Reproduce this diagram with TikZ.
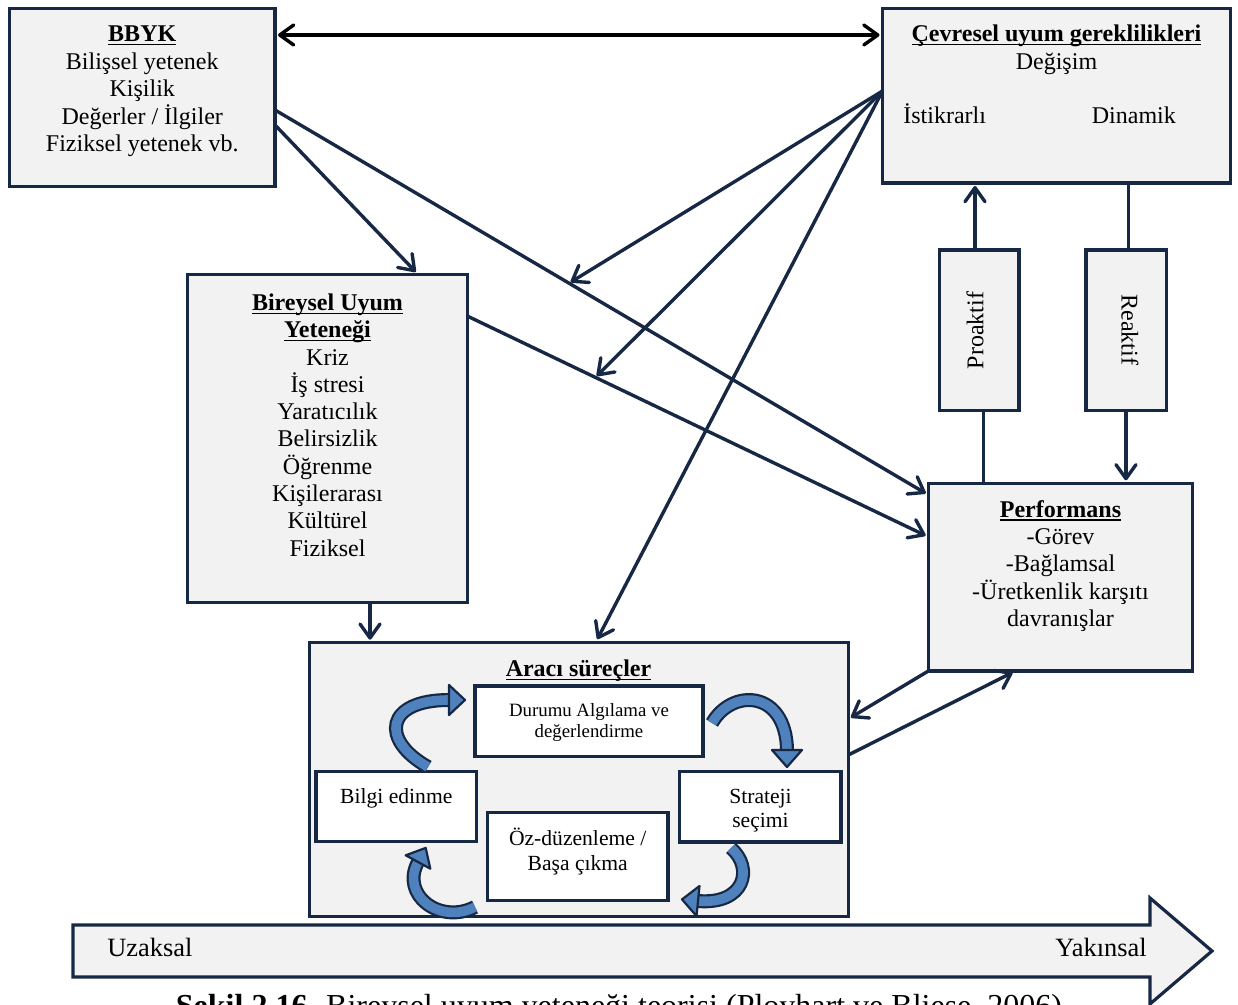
\documentclass[tikz,border=0pt]{standalone}
\usepackage{fontspec}
\setmainfont{Liberation Serif}
\usetikzlibrary{arrows.meta,calc}
\definecolor{navy}{RGB}{23,40,69}
\definecolor{boxfill}{RGB}{242,242,242}
\definecolor{cblue}{RGB}{79,129,189}
\newcommand\myul[1]{\setbox0\hbox{#1}\rlap{\rule[-1.8pt]{\wd0}{0.7pt}}\box0}
\begin{document}
\begin{tikzpicture}[x=0.5pt,y=-0.5pt,
  box/.style={draw=navy, line width=1.6pt, fill=boxfill, inner sep=0pt, outer sep=0pt},
  wbox/.style={draw=navy, line width=1.6pt, fill=white, inner sep=0pt, outer sep=0pt},
  txt/.style={inner sep=0pt, align=center, font=\fontsize{12}{13.75}\selectfont},
  conn/.style={navy, line width=1.7pt, -{Straight Barb[length=7pt,width=10pt,round]}},
  dbl/.style={black, line width=1.7pt, {Straight Barb[length=7pt,width=10pt,round]}-{Straight Barb[length=7pt,width=10pt,round]}},
  plainln/.style={navy, line width=1.7pt},
  curv/.style={draw=navy, line width=1.1pt, double=cblue, double distance=4.8pt},
  chead/.style={fill=cblue, draw=navy, line width=1.1pt, line join=round}
]
\path[use as bounding box] (0,0) rectangle (1238,1005);
\clip (0,0) rectangle (1238,1005);

% boxes
\node[box, minimum width=132.75pt, minimum height=89pt] (bbyk) at (142.25,97.5) {};
\node[box, minimum width=174pt, minimum height=87.25pt] (cev) at (1056.5,95.75) {};
\node[box, minimum width=140.15pt, minimum height=163.85pt] (bir) at (327.65,438.65) {};
\node[box, minimum width=39.9pt, minimum height=80.35pt] (pro) at (979.1,330.3) {};
\node[box, minimum width=40.35pt, minimum height=80.35pt] (rea) at (1126.3,330.3) {};
\node[box, minimum width=132pt, minimum height=93.85pt] (perf) at (1060.3,577.2) {};
\node[box, minimum width=269.3pt, minimum height=137pt] (ara) at (579,779.7) {};
\node[wbox, minimum width=114pt, minimum height=35.35pt] (dur) at (589,721.4) {};
\node[wbox, minimum width=80.35pt, minimum height=35pt] (bil) at (396.3,806.7) {};
\node[wbox, minimum width=80.7pt, minimum height=35.15pt] (str) at (760.3,806.9) {};
\node[wbox, minimum width=90.25pt, minimum height=44pt] (oz) at (577.7,856.7) {};

% texts
\node[txt, anchor=north] (bbykT) at (142.25,22.25) {\strut\myul{\textbf{BBYK}}\\Bilişsel yetenek\\Kişilik\\Değerler / İlgiler\\Fiziksel yetenek vb.};
\node[txt, anchor=north] (cevT) at (1056.5,22.25) {\strut\myul{\textbf{Çevresel uyum gereklilikleri}}\\Değişim};
\node[txt, anchor=base west] (ist) at (903,124) {İstikrarlı};
\node[txt, anchor=base west] (din) at (1091.5,124) {Dinamik};
\node[txt, anchor=north, font=\fontsize{12}{13.65}\selectfont] (birT) at (327.5,290.9) {\strut\myul{\textbf{Bireysel Uyum}}\\\myul{\textbf{Yeteneği}}\\Kriz\\İş stresi\\Yaratıcılık\\Belirsizlik\\Öğrenme\\Kişilerarası\\Kültürel\\Fiziksel};
\node[txt, anchor=north, font=\fontsize{12}{13.65}\selectfont] (perfT) at (1060.5,497.6) {\strut\myul{\textbf{Performans}}\\-Görev\\-Bağlamsal\\-Üretkenlik karşıtı\\davranışlar};
\node[txt, rotate=90, anchor=base] (proT) at (983.3,330.5) {Proaktif};
\node[txt, rotate=-90, anchor=base] (reaT) at (1121.7,330) {Reaktif};
\node[txt, anchor=base] (araT) at (578.5,676.7) {\myul{\textbf{Aracı süreçler}}};
\node[txt, anchor=north, font=\fontsize{9.4}{10.35}\selectfont] (durT) at (589,701.5) {\strut Durumu Algılama ve\\değerlendirme};
\node[txt, anchor=base, font=\fontsize{10.8}{12}\selectfont] (bilT) at (396.3,803.3) {Bilgi edinme};
\node[txt, anchor=north, font=\fontsize{10.8}{12}\selectfont] (strT) at (760.5,785.9) {\strut Strateji\\seçimi};
\node[txt, anchor=north, font=\fontsize{10.8}{12.15}\selectfont] (ozT) at (577.7,828) {\strut Öz-düzenleme /\\Başa çıkma};

% connection points
\coordinate (b1) at ($(bbyk.north east)+(0,101.5)$);
\coordinate (p1) at ($(perf.north west)+(0,11.5)$);
\coordinate (b2) at ($(bir.north east)+(0,41.5)$);
\coordinate (p2) at ($(perf.north west)+(0,53.5)$);
\coordinate (c0) at ($(cev.north west)+(0,82.5)$);
\coordinate (m1) at ($(b1)!0.45!(p1)$);
\coordinate (m2) at ($(b2)!0.277!(p2)$);

% connectors
\draw[dbl, shorten <=1.5pt, shorten >=1.5pt] ($(bbyk.north east)+(0,26.5)$) -- ($(cev.north west)+(0,26.5)$);
\draw[conn, shorten >=1.5pt] (b1) -- (p1);
\draw[conn, shorten >=1.5pt] (b2) -- (p2);
\draw[conn, shorten >=2pt] ($(bbyk.north east)+(0,116.5)$) -- ($(bir.north west)+(231,0)$);
\draw[conn, shorten >=1pt] (c0) -- (m1);
\draw[conn, shorten >=1pt] (c0) -- (m2);
\draw[conn, shorten >=2pt] (c0) -- ($(ara.north west)+(285.8,0)$);
\draw[conn, shorten >=1.5pt] ($(bir.south west)+(182.5,0)$) coordinate (t1) -- (t1 |- ara.north);
\draw[conn, shorten >=1.5pt] ($(pro.north west)+(35.8,0)$) coordinate (t2) -- (t2 |- cev.south);
\draw[plainln] ($(pro.south west)+(44.1,0)$) coordinate (t3) -- (t3 |- perf.north);
\draw[plainln] ($(cev.south west)+(245.8,0)$) coordinate (t4) -- (t4 |- rea.north);
\draw[conn, shorten >=1.5pt] ($(rea.south west)+(40,0)$) coordinate (t5) -- (t5 |- perf.north);
\draw[conn, shorten >=1.5pt] (perf.south west) -- ($(ara.north east)+(0,76.3)$);
\draw[conn, shorten >=1.5pt] ($(ara.north east)+(0,112.3)$) -- ($(perf.south west)+(87,0)$);

% curved block arrows
\draw[curv] (428,767) .. controls (380,740) and (385,700) .. (449,700);
\draw[chead] (449,685) -- (465,700) -- (449,715) -- cycle;
\draw[curv] (712,723) .. controls (732,688) and (786,690) .. (787,750);
\draw[chead] (772,750) -- (787,767) -- (802,750) -- cycle;
\draw[curv] (731,848) .. controls (754,868) and (745,905) .. (698,901);
\draw[chead] (699.5,886) -- (682,899.4) -- (696.5,916) -- cycle;
\draw[curv] (475,907) .. controls (440,925) and (400,895) .. (418,862);
\draw[chead] (430.3,868.7) -- (425.7,847.9) -- (405.7,855.3) -- cycle;

% time arrow
\draw[draw=navy, fill=boxfill, line width=1.6pt, line join=miter] (73,925) -- (1150,925) -- (1150,898) -- (1212,951) -- (1150,1004) -- (1150,977) -- (73,977) -- cycle;
\node[anchor=base west, inner sep=0pt, font=\fontsize{13.2}{15}\selectfont] (uz) at (107,956.7) {Uzaksal};
\node[anchor=base east, inner sep=0pt, font=\fontsize{13.2}{15}\selectfont] (yak) at (1147,956.7) {Yakınsal};

% caption (cut off at the bottom, as in the reference)
\node[anchor=base, inner sep=0pt, font=\fontsize{16}{19}\selectfont] (cap) at (619,1016) {\textbf{Şekil 2.16.} Bireysel uyum yeteneği teorisi (Ployhart ve Bliese, 2006)};
\end{tikzpicture}
\end{document}
